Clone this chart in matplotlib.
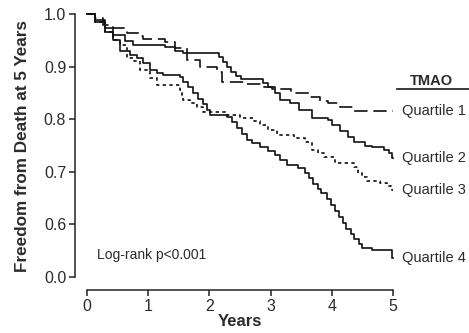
import matplotlib
matplotlib.use("Agg")
import matplotlib.pyplot as plt

plt.rcParams['font.family'] = ['Liberation Sans', 'DejaVu Sans']

# Kaplan-Meier curves por cuartil de TMAO
t_q1 = [0, 0.13, 0.26, 0.42, 0.65, 0.86, 0.91, 1.27, 1.44, 1.63, 1.84, 2.12, 2.20,
        2.58, 2.90, 3.03, 3.34, 3.64, 3.80, 3.93, 4.13, 4.37, 5.0]
s_q1 = [1.0, 0.992, 0.979, 0.973, 0.964, 0.958, 0.952, 0.947, 0.935, 0.913, 0.899, 0.890, 0.871,
        0.867, 0.861, 0.857, 0.850, 0.842, 0.835, 0.831, 0.823, 0.816, 0.816]

t_q2 = [0, 0.13, 0.29, 0.42, 0.62, 0.75, 1.27, 1.44, 1.57, 2.15, 2.22, 2.28, 2.35, 2.43,
        2.52, 2.87, 2.95, 3.07, 3.15, 3.31, 3.47, 3.67, 3.93, 4.00, 4.13, 4.26, 4.37,
        4.54, 4.65, 4.86, 4.94, 4.98, 5.0]
s_q2 = [1.0, 0.989, 0.973, 0.960, 0.949, 0.941, 0.937, 0.930, 0.926, 0.918, 0.909, 0.900, 0.890, 0.882,
        0.876, 0.868, 0.861, 0.850, 0.836, 0.831, 0.817, 0.802, 0.798, 0.789, 0.778, 0.766, 0.757,
        0.749, 0.747, 0.741, 0.735, 0.727, 0.727]

t_q3 = [0, 0.13, 0.29, 0.42, 0.54, 0.65, 0.75, 0.86, 1.03, 1.14, 1.52, 1.55, 1.57, 1.68,
        1.79, 1.89, 2.28, 2.50, 2.71, 2.82, 2.95, 3.10, 3.39, 3.56, 3.67, 3.77, 3.88,
        4.05, 4.37, 4.42, 4.49, 4.58, 4.78, 4.91, 4.98, 5.0]
s_q3 = [1.0, 0.985, 0.966, 0.951, 0.941, 0.916, 0.911, 0.894, 0.878, 0.865, 0.856, 0.846, 0.836, 0.831,
        0.823, 0.814, 0.808, 0.802, 0.797, 0.789, 0.779, 0.770, 0.764, 0.757, 0.741, 0.736, 0.728,
        0.717, 0.709, 0.698, 0.690, 0.682, 0.679, 0.673, 0.665, 0.665]

t_q4 = [0, 0.13, 0.29, 0.42, 0.54, 0.70, 0.82, 0.91, 1.03, 1.14, 1.24, 1.52, 1.57, 1.65,
        1.73, 1.81, 1.89, 1.96, 2.01, 2.28, 2.37, 2.45, 2.53, 2.61, 2.69, 2.82, 2.95,
        3.07, 3.15, 3.26, 3.44, 3.56, 3.62, 3.69, 3.77, 3.83, 3.92, 3.98, 4.05, 4.11,
        4.18, 4.24, 4.31, 4.37, 4.44, 4.49, 4.65, 4.99, 5.0]
s_q4 = [1.0, 0.985, 0.966, 0.951, 0.930, 0.922, 0.916, 0.907, 0.894, 0.888, 0.884, 0.880, 0.871, 0.861,
        0.850, 0.838, 0.829, 0.817, 0.808, 0.804, 0.795, 0.783, 0.772, 0.760, 0.755, 0.747, 0.740,
        0.732, 0.722, 0.713, 0.707, 0.698, 0.688, 0.677, 0.667, 0.660, 0.648, 0.637, 0.625, 0.614,
        0.603, 0.591, 0.582, 0.572, 0.563, 0.555, 0.551, 0.536, 0.536]

etiquetas = ['Quartile 1', 'Quartile 2', 'Quartile 3', 'Quartile 4']
y_ticks = [0.5, 0.6, 0.7, 0.8, 0.9, 1.0]
y_tick_labels = ['0.0', '0.6', '0.7', '0.8', '0.9', '1.0']
x_ticks = [0, 1, 2, 3, 4, 5]

gris = '#2b2b2b'

fig = plt.figure(figsize=(4.69, 3.33), dpi=100)
ax = fig.add_axes([87 / 469, 56 / 333, 306 / 469, 263 / 333])

curvas = [(t_q1, s_q1, (0, (8, 3.5))),
          (t_q2, s_q2, '-'),
          (t_q3, s_q3, (0, (2, 2))),
          (t_q4, s_q4, '-')]
for t, s, ls in curvas:
    ax.step(t, s, where='post', color='#111111', lw=1.2, linestyle=ls, clip_on=False)

ax.set_xlim(0, 5)
ax.set_ylim(0.5, 1.0)
ax.set_xticks(x_ticks)
ax.set_yticks(y_ticks)
ax.set_yticklabels(y_tick_labels)

# estilo tipo Prism: ejes separados
for lado in ['top', 'right']:
    ax.spines[lado].set_visible(False)
ax.spines['left'].set_position(('outward', 8.5))
ax.spines['bottom'].set_position(('outward', 9.5))
for lado in ['left', 'bottom']:
    ax.spines[lado].set_linewidth(1.1)
    ax.spines[lado].set_color('#222222')
ax.tick_params(axis='both', length=4.5, width=1.1, color='#222222', labelsize=11.5,
               labelcolor=gris, pad=2)

ax.set_ylabel('Freedom from Death at 5 Years', fontsize=12.3, fontweight='bold', color=gris)
ax.yaxis.set_label_coords(-0.186, 0.497)
ax.set_xlabel('Years', fontsize=12, fontweight='bold', color=gris, labelpad=0)

ax.text(0.16, 0.541, 'Log-rank p<0.001', fontsize=10, color=gris, va='center')

# leyenda manual al final de cada curva
finales = [s_q1[-1], s_q2[-1], s_q3[-1], s_q4[-1]]
for etiqueta, y in zip(etiquetas, finales):
    ax.text(5.14, y, etiqueta, fontsize=10.5, color=gris, va='center', clip_on=False)
ax.text(5.62, 0.860, 'TMAO', fontsize=10.5, fontweight='bold', color=gris, ha='center',
        va='bottom', clip_on=False)
ax.plot([5.07, 6.24], [0.857, 0.857], color=gris, lw=1.3, clip_on=False)

fig.savefig('out.png', dpi=100)
